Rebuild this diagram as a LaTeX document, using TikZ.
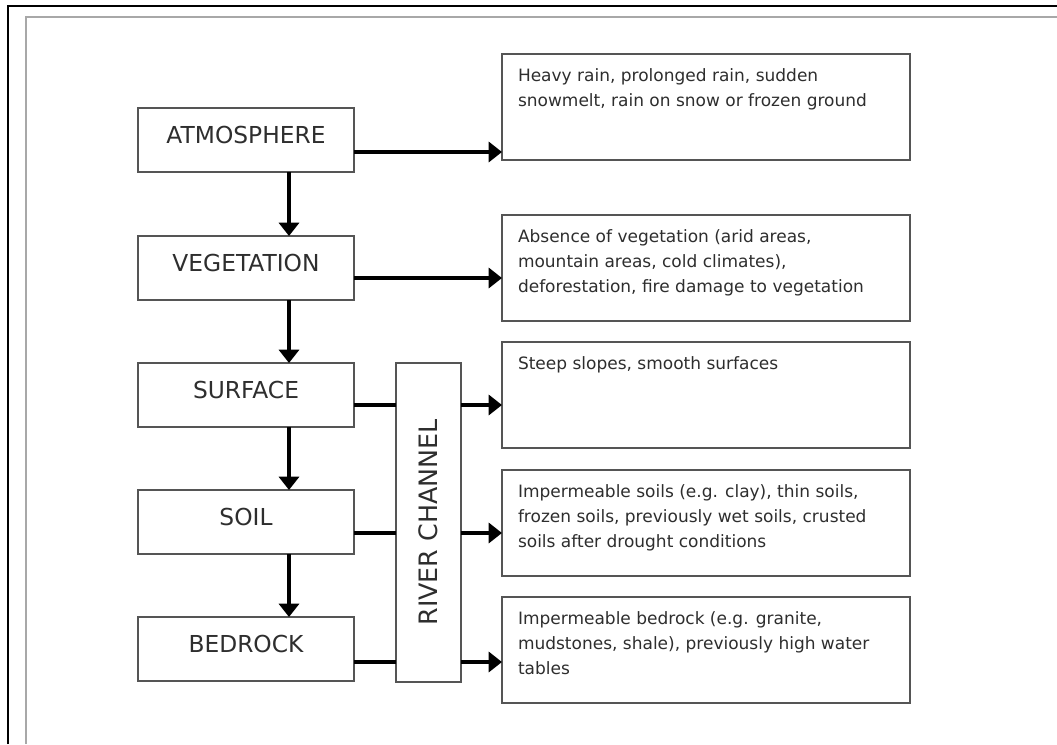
\documentclass[tikz,border=0pt]{standalone}
\usepackage{fontspec}
\setmainfont{DejaVu Sans}
\usetikzlibrary{arrows.meta}
\definecolor{boxline}{HTML}{555555}
\definecolor{ink}{HTML}{2E2E2E}
\definecolor{framegray}{HTML}{A8A8A8}
\newcommand{\factlines}[1]{\parbox[t][57pt][t]{282pt}{\raggedright #1}}

\begin{document}
\begin{tikzpicture}[x=0.75pt,y=-0.75pt,
  layerbox/.style={draw=boxline, line width=1.5pt, fill=white, anchor=north west,
    outer sep=0pt, inner sep=0pt, minimum width=162pt, minimum height=48pt,
    text height=26.25pt, text depth=21.75pt, text=ink,
    font=\fontsize{17.5}{20}\selectfont},
  factbox/.style={draw=boxline, line width=1.5pt, fill=white, anchor=north west,
    outer sep=0pt, inner xsep=12pt, inner ysep=11.25pt,
    minimum width=306pt, minimum height=79.5pt, text=ink,
    font=\fontsize{12.75}{18.75}\selectfont},
  channelbox/.style={draw=boxline, line width=1.5pt, fill=white, anchor=north west,
    outer sep=0pt, inner sep=0pt, minimum width=48.75pt, minimum height=239.25pt,
    text=ink, font=\fontsize{19}{22}\selectfont},
  flow/.style={line width=3pt, black, -{Triangle[length=10pt,width=15pt]}},
  link/.style={line width=3pt, black}
]
\useasboundingbox (0,0) rectangle (1057,744);
\fill[white] (0,0) rectangle (1057,744);

% page frame
\draw[line width=1.5pt, black] (8,744) -- (8,6) -- (1057,6);
\draw[line width=1.2pt, framegray] (26,744) -- (26,17) -- (1057,17);

% layers
\node[layerbox] (atm)  at (138,108) {ATMOSPHERE};
\node[layerbox] (veg)  at (138,236) {VEGETATION};
\node[layerbox] (surf) at (138,363) {SURFACE};
\node[layerbox] (soil) at (138,490) {SOIL};
\node[layerbox] (bed)  at (138,617) {BEDROCK};

% river channel
\node[channelbox] (river) at (396,363) {\rotatebox{90}{RIVER CHANNEL}};

% factors
\node[factbox] (f1) at (502,54)  {\factlines{Heavy rain, prolonged rain, sudden\\ snowmelt, rain on snow or frozen ground}};
\node[factbox] (f2) at (502,215) {\factlines{Absence of vegetation (arid areas,\\ mountain areas, cold climates),\\ deforestation, fire damage to vegetation}};
\node[factbox] (f3) at (502,342) {\factlines{Steep slopes, smooth surfaces}};
\node[factbox] (f4) at (502,470) {\factlines{Impermeable soils (e.g. clay), thin soils,\\ frozen soils, previously wet soils, crusted\\ soils after drought conditions}};
\node[factbox] (f5) at (502,597) {\factlines{Impermeable bedrock (e.g. granite,\\ mudstones, shale), previously high water\\ tables}};

% levels of the connectors
\coordinate (cx) at (289,0);
\coordinate (l1) at (0,152);
\coordinate (l2) at (0,278);
\coordinate (l3) at (0,405);
\coordinate (l4) at (0,533);
\coordinate (l5) at (0,662);

% downward chain
\draw[flow] (atm.south -| cx)  -- (veg.north -| cx);
\draw[flow] (veg.south -| cx)  -- (surf.north -| cx);
\draw[flow] (surf.south -| cx) -- (soil.north -| cx);
\draw[flow] (soil.south -| cx) -- (bed.north -| cx);

% sideways connectors
\draw[flow] (atm.east |- l1) -- (f1.west |- l1);
\draw[flow] (veg.east |- l2) -- (f2.west |- l2);
\draw[link] (surf.east |- l3) -- (river.west |- l3);
\draw[link] (soil.east |- l4) -- (river.west |- l4);
\draw[link] (bed.east |- l5)  -- (river.west |- l5);
\draw[flow] (river.east |- l3) -- (f3.west |- l3);
\draw[flow] (river.east |- l4) -- (f4.west |- l4);
\draw[flow] (river.east |- l5) -- (f5.west |- l5);
\end{tikzpicture}
\end{document}
